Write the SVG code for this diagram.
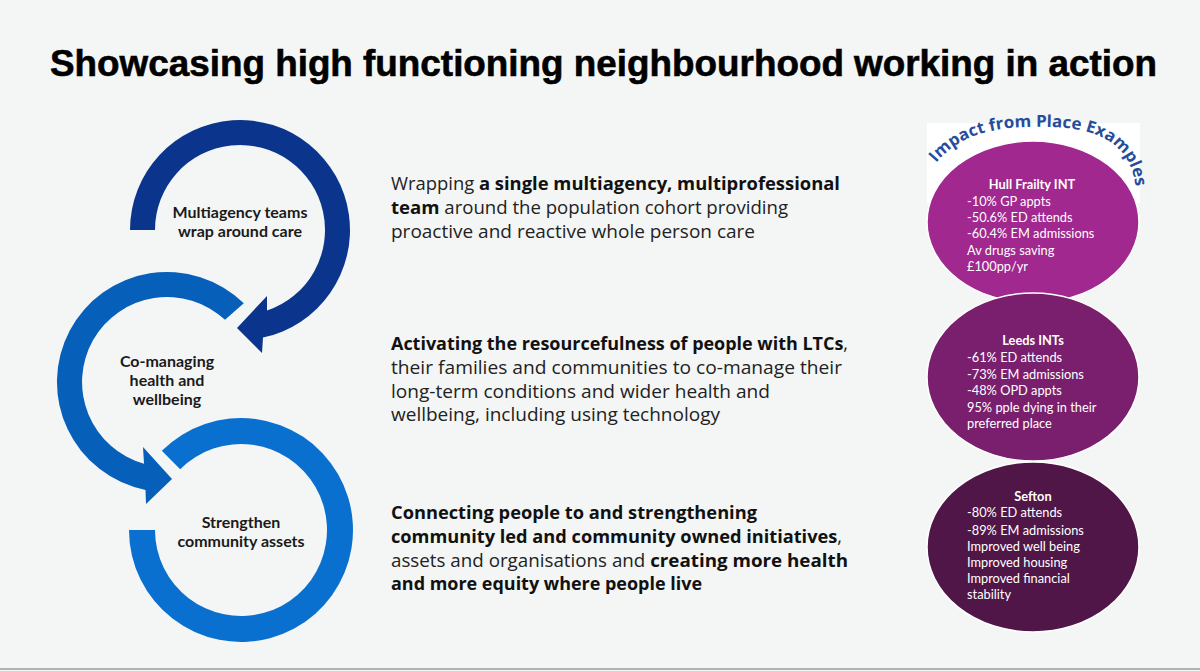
<svg xmlns="http://www.w3.org/2000/svg" width="1200" height="671" viewBox="0 0 1200 671">
<style>
.title{font-family:"Liberation Sans",Arial,sans-serif;font-weight:700;font-size:37px;fill:#000;stroke:#000;stroke-width:0.6}
.ctext{font-family:Lato,"Liberation Sans",sans-serif;font-weight:700;font-size:16px;fill:#1a1a1a;text-anchor:middle}
.para{font-family:"Open Sans","Liberation Sans",sans-serif;font-size:18.3px;fill:#222}
.b{font-weight:700;fill:#111}
.etext{font-family:Lato,"Liberation Sans",sans-serif;font-size:12.8px;fill:#fff}
.ehead{font-weight:700;text-anchor:middle}
.arch{font-family:"Open Sans","Liberation Sans",sans-serif;font-weight:700;font-size:16.5px;fill:#264d9c}
</style>
<defs>
<path id="archPath" d="M 936,163 C 965,128 1010,126 1050,127 C 1100,128 1132,145 1136,190"/>
</defs>
<rect x="0" y="0" width="1200" height="671" fill="#f4f5f5"/>
<line x1="0" y1="669" x2="1200" y2="669" stroke="#9a9a9a" stroke-width="1.5"/>
<text class="title" x="50" y="76" textLength="1107" lengthAdjust="spacingAndGlyphs">Showcasing high functioning neighbourhood working in action</text>

<g id="connectors">
<path id="arrow-top" d="M 130,230 A 110 110 0 1 1 263,337.6 L 262,353 L 237,328 L 267,296 L 267,310.6 A 85 85 0 1 0 155,230 Z" fill="#0b358c"/>
<path id="arrow-middle" d="M 243.8,303.3 A 110 110 0 1 0 145.5,489.9 L 146,504 L 172,479 L 143,447 L 144,463.8 A 85 85 0 1 1 225,319.8 Z" fill="#0660b9"/>
<path id="ring-bottom" d="M 129,530 A 112 112 0 1 0 161.8,450.8 L 180.2,469.2 A 86 86 0 1 1 155,530 Z" fill="#0a70cf"/>
</g>

<g id="node-multiagency">
<text class="ctext" x="240" y="218">Multiagency teams</text>
<text class="ctext" x="240" y="237">wrap around care</text>
</g>
<g id="node-comanaging">
<text class="ctext" x="167" y="367">Co-managing</text>
<text class="ctext" x="167" y="386">health and</text>
<text class="ctext" x="167" y="405">wellbeing</text>
</g>
<g id="node-strengthen">
<text class="ctext" x="241" y="528">Strengthen</text>
<text class="ctext" x="241" y="547">community assets</text>
</g>

<g id="text-wrapping">
<text class="para" x="391" y="190" textLength="449" lengthAdjust="spacingAndGlyphs">Wrapping <tspan class="b">a single multiagency, multiprofessional</tspan></text>
<text class="para" x="391" y="214" textLength="397" lengthAdjust="spacingAndGlyphs"><tspan class="b">team</tspan> around the population cohort providing</text>
<text class="para" x="391" y="238" textLength="364" lengthAdjust="spacingAndGlyphs">proactive and reactive whole person care</text>
</g>
<g id="text-activating">
<text class="para" x="391" y="350" textLength="457" lengthAdjust="spacingAndGlyphs"><tspan class="b">Activating the resourcefulness of people with LTCs</tspan>,</text>
<text class="para" x="391" y="374" textLength="451" lengthAdjust="spacingAndGlyphs">their families and communities to co-manage their</text>
<text class="para" x="391" y="398" textLength="379" lengthAdjust="spacingAndGlyphs">long-term conditions and wider health and</text>
<text class="para" x="391" y="421" textLength="329" lengthAdjust="spacingAndGlyphs">wellbeing, including using technology</text>
</g>
<g id="text-connecting">
<text class="para" x="391" y="519" textLength="366" lengthAdjust="spacingAndGlyphs"><tspan class="b">Connecting people to and strengthening</tspan></text>
<text class="para" x="391" y="543" textLength="451" lengthAdjust="spacingAndGlyphs"><tspan class="b">community led and community owned initiatives</tspan>,</text>
<text class="para" x="391" y="567" textLength="457" lengthAdjust="spacingAndGlyphs">assets and organisations and <tspan class="b">creating more health</tspan></text>
<text class="para" x="391" y="590" textLength="311" lengthAdjust="spacingAndGlyphs"><tspan class="b">and more equity where people live</tspan></text>
</g>

<g id="impact-header">
<rect x="927" y="123" width="213" height="80" fill="#ffffff"/>
</g>
<g id="node-hull">
<ellipse cx="1033" cy="222" rx="106" ry="81" fill="#a0288f" stroke="#ffffff" stroke-width="1.5"/>
<text class="etext ehead" x="1032" y="189">Hull Frailty INT</text>
<text class="etext" x="967" y="206">-10% GP appts</text>
<text class="etext" x="967" y="222">-50.6% ED attends</text>
<text class="etext" x="967" y="238">-60.4% EM admissions</text>
<text class="etext" x="967" y="255">Av drugs saving</text>
<text class="etext" x="967" y="271">£100pp/yr</text>
</g>
<g id="node-leeds">
<ellipse cx="1033" cy="377" rx="106" ry="84" fill="#7a1f6e" stroke="#ffffff" stroke-width="1.5"/>
<text class="etext ehead" x="1033" y="345">Leeds INTs</text>
<text class="etext" x="967" y="362">-61% ED attends</text>
<text class="etext" x="967" y="379">-73% EM admissions</text>
<text class="etext" x="967" y="395">-48% OPD appts</text>
<text class="etext" x="967" y="412">95% pple dying in their</text>
<text class="etext" x="967" y="428">preferred place</text>
</g>
<g id="node-sefton">
<ellipse cx="1033" cy="547" rx="106" ry="85" fill="#501648" stroke="#ffffff" stroke-width="1.5"/>
<text class="etext ehead" x="1033" y="501">Sefton</text>
<text class="etext" x="967" y="517">-80% ED attends</text>
<text class="etext" x="967" y="535">-89% EM admissions</text>
<text class="etext" x="967" y="551">Improved well being</text>
<text class="etext" x="967" y="567">Improved housing</text>
<text class="etext" x="967" y="583">Improved financial</text>
<text class="etext" x="967" y="599">stability</text>
</g>
<g id="impact-title">
<text class="arch"><textPath href="#archPath" textLength="240" lengthAdjust="spacingAndGlyphs">Impact from Place Examples</textPath></text>
</g>
</svg>
